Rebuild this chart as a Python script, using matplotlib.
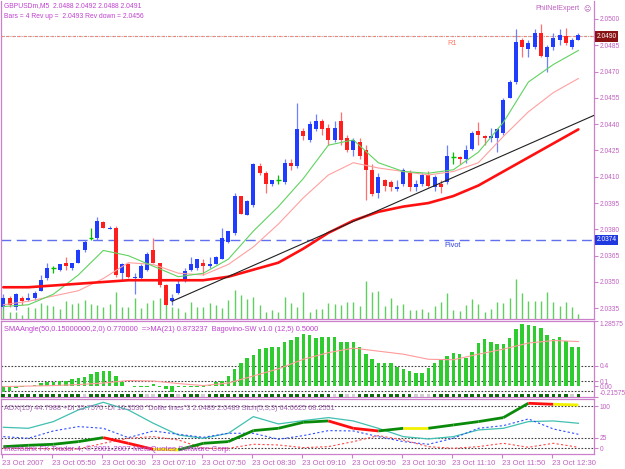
import matplotlib
matplotlib.use("Agg")
import matplotlib.pyplot as plt
from matplotlib.transforms import blended_transform_factory as btf

plt.rcParams['font.family'] = ['Liberation Sans', 'DejaVu Sans']

# ---------------- data ----------------
opens = [2.0336, 2.0341, 2.0336, 2.0341, 2.0340, 2.0341, 2.0345, 2.0352, 2.0358, 2.0357,
         2.0361, 2.0358, 2.0361, 2.0368, 2.0375, 2.0375, 2.0384, 2.0380, 2.0381, 2.0355,
         2.0360, 2.0352, 2.0352, 2.0357, 2.0368, 2.0361, 2.0348, 2.0339, 2.0344, 2.0351,
         2.0357, 2.0358, 2.0361, 2.0359, 2.0360, 2.0363, 2.0373, 2.0378, 2.0399, 2.0388,
         2.0394, 2.0416, 2.0412, 2.0406, 2.0408, 2.0407, 2.0418, 2.0416, 2.0436, 2.0431,
         2.0437, 2.0442, 2.0438, 2.0431, 2.0442, 2.0432, 2.0425, 2.0430, 2.0425, 2.0414,
         2.0401, 2.0408, 2.0407, 2.0403, 2.0406, 2.0412, 2.0404, 2.0406, 2.0411, 2.0404,
         2.0406, 2.0407, 2.0421, 2.0421, 2.0420, 2.0426, 2.0436, 2.0433, 2.0432, 2.0432,
         2.0435, 2.0455, 2.0464, 2.0488, 2.0483, 2.0484, 2.0492, 2.0478, 2.0484, 2.0488,
         2.0490, 2.0484, 2.0488]
highs = [2.0343, 2.0342, 2.0344, 2.0342, 2.0344, 2.0345, 2.0354, 2.0361, 2.0359, 2.0360,
         2.0364, 2.0361, 2.0369, 2.0374, 2.0381, 2.0387, 2.0385, 2.0382, 2.0382, 2.0361,
         2.0361, 2.0355, 2.0360, 2.0367, 2.0375, 2.0361, 2.0349, 2.0343, 2.0351, 2.0358,
         2.0364, 2.0363, 2.0363, 2.0364, 2.0365, 2.0381, 2.0379, 2.0401, 2.0399, 2.0397,
         2.0418, 2.0418, 2.0413, 2.0408, 2.0411, 2.0420, 2.0420, 2.0452, 2.0438, 2.0442,
         2.0446, 2.0443, 2.0440, 2.0442, 2.0447, 2.0434, 2.0432, 2.0432, 2.0428, 2.0417,
         2.0412, 2.0409, 2.0408, 2.0408, 2.0415, 2.0414, 2.0408, 2.0412, 2.0413, 2.0411,
         2.0408, 2.0428, 2.0424, 2.0422, 2.0428, 2.0436, 2.0441, 2.0434, 2.0438, 2.0438,
         2.0455, 2.0465, 2.0494, 2.0489, 2.0488, 2.0494, 2.0497, 2.0485, 2.0492, 2.0494,
         2.0495, 2.0489, 2.0492]
lows = [2.0335, 2.0336, 2.0334, 2.0337, 2.0339, 2.0340, 2.0345, 2.0351, 2.0355, 2.0356,
        2.0357, 2.0357, 2.0361, 2.0367, 2.0374, 2.0374, 2.0381, 2.0380, 2.0353, 2.0351,
        2.0352, 2.0343, 2.0351, 2.0356, 2.0361, 2.0347, 2.0337, 2.0337, 2.0343, 2.0350,
        2.0356, 2.0357, 2.0354, 2.0358, 2.0360, 2.0363, 2.0372, 2.0377, 2.0389, 2.0388,
        2.0393, 2.0411, 2.0401, 2.0405, 2.0406, 2.0406, 2.0414, 2.0415, 2.0431, 2.0430,
        2.0436, 2.0434, 2.0428, 2.0430, 2.0428, 2.0424, 2.0422, 2.0420, 2.0397, 2.0399,
        2.0398, 2.0402, 2.0402, 2.0402, 2.0405, 2.0402, 2.0402, 2.0405, 2.0404, 2.0402,
        2.0401, 2.0406, 2.0417, 2.0417, 2.0418, 2.0425, 2.0428, 2.0428, 2.0430, 2.0424,
        2.0434, 2.0455, 2.0463, 2.0478, 2.0478, 2.0483, 2.0478, 2.0470, 2.0482, 2.0485,
        2.0485, 2.0483, 2.0488]
closes = [2.0341, 2.0337, 2.0343, 2.0339, 2.0341, 2.0344, 2.0351, 2.0358, 2.0358, 2.0360,
          2.0359, 2.0361, 2.0368, 2.0373, 2.0375, 2.0385, 2.0381, 2.0381, 2.0354, 2.0360,
          2.0353, 2.0353, 2.0359, 2.0366, 2.0361, 2.0348, 2.0337, 2.0341, 2.0349, 2.0356,
          2.0360, 2.0363, 2.0359, 2.0360, 2.0364, 2.0375, 2.0379, 2.0399, 2.0389, 2.0396,
          2.0417, 2.0412, 2.0406, 2.0408, 2.0408, 2.0418, 2.0416, 2.0437, 2.0433, 2.0440,
          2.0442, 2.0437, 2.0431, 2.0438, 2.0431, 2.0425, 2.0431, 2.0422, 2.0414, 2.0400,
          2.0410, 2.0405, 2.0404, 2.0404, 2.0414, 2.0404, 2.0406, 2.0411, 2.0405, 2.0410,
          2.0404, 2.0422, 2.0421, 2.0420, 2.0425, 2.0435, 2.0434, 2.0432, 2.0433, 2.0437,
          2.0454, 2.0464, 2.0487, 2.0484, 2.0486, 2.0492, 2.0479, 2.0484, 2.0489, 2.0491,
          2.0486, 2.0488, 2.0491]
volumes = [12, 7, 7, 4, 12, 11, 16, 14, 13, 10,
           18, 15, 16, 19, 15, 14, 12, 15, 27, 12,
           12, 21, 11, 16, 19, 21, 17, 12, 11, 7,
           17, 12, 12, 16, 14, 11, 19, 29, 24, 20,
           22, 14, 7, 9, 7, 22, 16, 12, 27, 7,
           10, 10, 16, 15, 14, 17, 17, 13, 38, 27,
           28, 13, 21, 14, 15, 9, 9, 10, 7, 13,
           17, 26, 9, 8, 14, 20, 15, 7, 10, 17,
           16, 21, 40, 26, 18, 18, 18, 27, 17, 13,
           17, 12, 5]

# moving averages read every 4th bar
ma_bars = [0, 4, 8, 12, 16, 20, 24, 28, 32, 36, 40, 44, 48, 52, 56, 60, 64, 68, 72, 76, 80, 84, 88, 92]
ma_fast = [2.0336, 2.0337, 2.0343, 2.0354, 2.0368, 2.0365, 2.0359, 2.0353, 2.0355, 2.0363, 2.0379, 2.0393,
           2.0409, 2.0428, 2.0431, 2.0418, 2.0413, 2.0412, 2.0414, 2.0424, 2.0441, 2.0464, 2.0474, 2.0482]
ma_mid = [2.0337, 2.0339, 2.0342, 2.0345, 2.0352, 2.0361, 2.0360, 2.0355, 2.0354, 2.0360, 2.0370, 2.0383,
          2.0398, 2.0411, 2.0418, 2.0415, 2.0413, 2.0411, 2.0413, 2.0418, 2.0433, 2.0447, 2.0458, 2.0466]
ma_slow = [2.0347, 2.0347, 2.0348, 2.0349, 2.0350, 2.0351, 2.0351, 2.0351, 2.0351, 2.0353, 2.0357, 2.0361,
           2.0369, 2.0378, 2.0385, 2.0390, 2.0393, 2.0395, 2.0399, 2.0405, 2.0413, 2.0421, 2.0429, 2.0437]
trend_bars = [27, 94.5]
trend_prices = [2.0339, 2.0445]
pivot_level = 2.0374
r1_level = 2.0490
price_ticks = [2.0500, 2.0485, 2.0470, 2.0455, 2.0440, 2.0425, 2.0410, 2.0395, 2.0380, 2.0365, 2.0350, 2.0335]

time_labels = ["23 Oct 2007", "23 Oct 05:50", "23 Oct 06:30", "23 Oct 07:10", "23 Oct 07:50",
               "23 Oct 08:30", "23 Oct 09:10", "23 Oct 09:50", "23 Oct 10:30", "23 Oct 11:10",
               "23 Oct 11:50", "23 Oct 12:30"]

# SMAAngle histogram
sma_angle = [-0.12, -0.10, -0.03, -0.02, 0.01, 0.03, 0.06, 0.08, 0.09, 0.11,
             0.11, 0.13, 0.15, 0.18, 0.23, 0.27, 0.29, 0.29, 0.19, 0.08,
             0.01, -0.01, -0.02, -0.01, 0.05, -0.01, -0.05, -0.12, -0.02, -0.01,
             -0.01, -0.01, -0.01, 0.03, 0.08, 0.11, 0.19, 0.33, 0.45, 0.55,
             0.61, 0.73, 0.75, 0.77, 0.78, 0.88, 0.91, 0.97, 1.03, 1.00,
             0.95, 0.96, 0.97, 0.97, 0.88, 0.88, 0.88, 0.77, 0.63, 0.53,
             0.46, 0.46, 0.46, 0.37, 0.33, 0.29, 0.25, 0.25, 0.35, 0.46,
             0.53, 0.59, 0.66, 0.63, 0.55, 0.67, 0.86, 0.93, 0.88, 0.83,
             0.83, 0.95, 1.13, 1.23, 1.21, 1.18, 1.15, 1.01, 0.93, 0.96,
             0.89, 0.77, 0.77]
sma_ma = [-0.01, 0.0, 0.01, 0.03, 0.06, 0.11, 0.10, 0.05, 0.01, 0.06, 0.20, 0.34,
          0.53, 0.66, 0.75, 0.69, 0.63, 0.53, 0.52, 0.63, 0.73, 0.85, 0.90, 0.88]
sw_signal = [1] * 93
for _i in [13, 23, 24, 28, 32, 53, 55, 56, 66, 67, 68, 91]:
    sw_signal[_i] = 0
sma_levels = [0.4, 0.1, -0.1]
sma_ticks = [1.28575, 0.4, 0.1, 0.0, -0.21575]
sma_tick_labels = ["1.28575", "0.4", "0.1", "0.00", "-0.21575"]

# ADX panel
adx = [49.7, 47.3, 63.1, 90.7, 108.8, 90.7, 59.2, 31.5, 23.7, 35.5, 74.9, 57.6,
       65.5, 72.6, 64.7, 47.3, 27.6, 22.1, 27.6, 43.4, 47.3, 63.1, 64.7, 59.2]
plus_di = [27.6, 23.7, 41.0, 51.3, 47.3, 25.2, 41.0, 33.1, 26.0, 35.5, 35.5, 21.3,
           30.0, 41.8, 41.0, 27.6, 15.8, 9.5, 23.7, 47.3, 53.6, 69.4, 45.7, 33.1]
minus_di = [0.0, 0.0, -1.6, -1.6, 11.8, 23.7, 27.6, 19.7, 0.0, 0.0, 9.5, 7.9,
            1.6, 3.9, 15.8, 30.0, 19.7, 3.9, 0.0, 3.9, 11.8, 2.4, 11.8, 2.4]
dollie = [3.9, 7.1, 9.5, 15.8, 25.2, 11.8, -2.4, -3.9, 11.8, 15.8, 41.8, 47.3,
          61.5, 64.7, 47.3, 41.0, 47.3, 47.3, 55.2, 63.1, 72.6, 106.5, 104.1, 102.5]
adx_levels = [100, 25, 0]

# ---------------- layout ----------------
W, H = 625, 469
fig = plt.figure(figsize=(W / 100, H / 100), dpi=100, facecolor='white')

def rect(x0, y0, x1, y1):
    return [x0 / W, 1 - y1 / H, (x1 - x0) / W, (y1 - y0) / H]

def ptext(x, y, s, **kw):
    fig.text(x / W, 1 - y / H, s, **kw)

FRAME = '#cc80cc'
LBL = '#c060c0'
HDR = '#c040d0'
TFS = 4.8
XL, XR = -0.37, 94.5
n = len(closes)
xs = list(range(n))

def style(a):
    for s in a.spines.values():
        s.set_color(FRAME)
        s.set_linewidth(0.9)
    a.set_xlim(XL, XR)
    a.yaxis.tick_right()
    a.tick_params(axis='y', colors=FRAME, labelcolor=LBL, labelsize=TFS, length=3, width=0.8, pad=1.0)

ax = fig.add_axes(rect(1, 1, 594, 319))
ax1 = fig.add_axes(rect(1, 321, 594, 397))
ax2 = fig.add_axes(rect(1, 399, 594, 454))

# ---- main panel ----
axv = ax.twinx()
axv.set_ylim(0, 318)
axv.set_xlim(XL, XR)
axv.vlines(xs, 0, volumes, color='#5fcf5f', lw=1.0)
axv.axis('off')
ax.set_zorder(axv.get_zorder() + 1)
ax.patch.set_visible(False)

for a in (ax, ax1, ax2):
    style(a)
ax.spines['top'].set_visible(False)

ax.set_ylim(2.03289, 2.05102)
ax.set_yticks(price_ticks)
ax.set_yticklabels([f"{p:.4f}" for p in price_ticks])
ax.set_xticks([])

ax.axhline(pivot_level, color='#6070ee', lw=1.0, dashes=(7, 4), zorder=2)
ax.axhline(r1_level, color='#a0a0a0', lw=0.8, ls=(0, (1, 1)), zorder=2)
ax.axhline(r1_level, color='#ff7a6a', lw=0.8, dashes=(2, 3), zorder=2)

for i in xs:
    o, h, l, c = opens[i], highs[i], lows[i], closes[i]
    if c > o:
        body, wick = '#1f3cff', '#6f80ff'
    elif c < o:
        body, wick = '#ff1e1e', '#ff7070'
    else:
        body, wick = '#00c000', '#00c000'
    ax.vlines(i, l, h, color=wick, lw=0.9, zorder=3)
    if c == o:
        ax.hlines(c, i - 0.35, i + 0.35, color=body, lw=1.0, zorder=3)
    else:
        ax.bar(i, abs(c - o), bottom=min(o, c), width=0.62, color=body, zorder=3, linewidth=0)

ax.plot(ma_bars, ma_mid, color='#ffa0a0', lw=0.8, zorder=4)
ax.plot(ma_bars, ma_fast, color='#5fd35f', lw=0.8, zorder=4)
ax.plot(ma_bars, ma_slow, color='#ff1010', lw=1.9, zorder=4, solid_capstyle='round')
ax.plot(trend_bars, trend_prices, color='#202020', lw=0.8, zorder=4)

ax.text(71.8, r1_level - 0.00040, "R1", color='#ff7a6a', fontsize=5.3, ha='center', va='center')
ax.text(71.9, pivot_level - 0.00033, "Pivot", color='#3040e0', fontsize=5.3, ha='center', va='center')

tr = btf(ax.transAxes, ax.transData)
ax.text(1.004, r1_level, f"{r1_level:.4f}", transform=tr, color='white', fontsize=TFS, va='center', ha='left',
        bbox=dict(facecolor='#8a1414', edgecolor='none', pad=1.2), zorder=10)
ax.text(1.004, pivot_level, f"{pivot_level:.4f}", transform=tr, color='white', fontsize=TFS, va='center', ha='left',
        bbox=dict(facecolor='#2038e0', edgecolor='none', pad=1.2), zorder=10)

ptext(4, 6, "GBPUSDm,M5  2.0488 2.0492 2.0488 2.0491", color=HDR, fontsize=4.9, va='center')
ptext(4, 16, "Bars = 4 Rev up =  2.0493 Rev down = 2.0456", color=HDR, fontsize=4.9, va='center')
ptext(579, 9, "PhilNelExpert", color=LBL, fontsize=5.2, va='center', ha='right')
ptext(587, 9, "\u2639", color='#b050b0', fontsize=5, va='center', ha='center', family='DejaVu Sans')

# ---- SMAAngle panel ----
ax1.set_ylim(-0.21575, 1.28575)
ax1.bar(xs, sma_angle, width=0.55, color='#2fcc2f', linewidth=0, zorder=2)
for lv in sma_levels:
    ax1.axhline(lv, color='#404040', lw=0.8, ls=(0, (1.5, 1.5)), zorder=1)
ax1.plot(ma_bars, sma_ma, color='#ff9a9a', lw=0.8, zorder=3)
sq_colors = ['#0a6a0a' if s else '#cfcfcf' for s in sw_signal]
ax1.scatter(xs, [-0.19] * n, marker='s', s=7, c=sq_colors, linewidths=0, zorder=3)
ax1.set_yticks(sma_ticks)
ax1.set_yticklabels(sma_tick_labels)
ax1.set_xticks([])
tl = ax1.get_yticklabels()
tl[0].set_va('top')
tl[-1].set_va('bottom')
ptext(4, 329, "SMAAngle(50,0.15000000,2,0) 0.770000  =>MA(21) 0.873237  Bagovino-SW v1.0 (12,5) 0.5000",
      color=HDR, fontsize=5.35, va='center')

# ---- ADX panel ----
ax2.set_ylim(-13.5, 116.6)
for lv in adx_levels:
    ax2.axhline(lv, color='#404040', lw=0.8, ls=(0, (1.5, 1.5)), zorder=1)
ax2.plot(ma_bars, adx, color='#40c0b0', lw=0.9, zorder=3)
ax2.plot(ma_bars, plus_di, color='#3050ff', lw=0.8, dashes=(2, 2), zorder=3)
ax2.plot(ma_bars, minus_di, color='#ff4a4a', lw=0.8, dashes=(2, 2), zorder=3)
for k in range(len(ma_bars) - 1):
    d = dollie[k + 1] - dollie[k]
    col = '#0a8a0a' if d > 2 else ('#ff1010' if d < -2 else '#f2f200')
    ax2.plot(ma_bars[k:k + 2], dollie[k:k + 2], color=col, lw=2.0, zorder=4, solid_capstyle='butt')
ax2.set_yticks(adx_levels)
ax2.set_yticklabels([str(v) for v in adx_levels])
tick_bars = [8 * k - 0.25 for k in range(len(time_labels))]
ax2.set_xticks(tick_bars)
ax2.set_xticklabels(time_labels, ha='left')
ax2.tick_params(axis='x', colors=FRAME, labelcolor=LBL, labelsize=5.5, length=3, width=0.8, pad=1.5)
ptext(4, 408, "ADX(15) 44.7988 +DI 35.7576 -DI 10.3530 \"Dollie lines\"3 2.0489 2.0489 Stch(5,3,3) 64.0625 68.2551",
      color='#a060b0', fontsize=5.3, va='center')
ptext(4, 449, "Interbank FX Trader 4, \u00a9 2001-2007 MetaQuotes Software Corp.",
      color=HDR, fontsize=5.7, va='center')

fig.savefig("out.png", dpi=100, facecolor='white')
